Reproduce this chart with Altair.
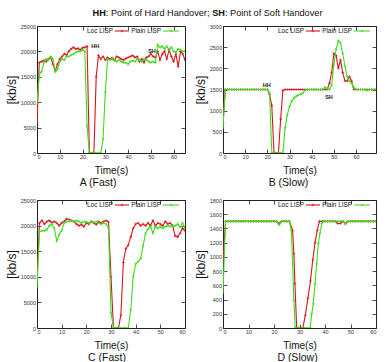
import altair as alt
import pandas as pd

FONT = "Liberation Sans"
SERIES = ["Loc LISP", "Plain LISP"]
COLORS = ["#d8161b", "#3fdc1e"]

# ---------------- Panel A (Fast) ----------------
A_t = list(range(0, 66))
A_red = [6000, 17800, 18000, 18200, 18000, 18500, 18800, 17500, 16200, 17500,
         18500, 19000, 19500, 19300, 20000, 20500, 20800, 20500, 20600, 20300,
         20700, 20800, 21000, 0, 0, 0, 15000, 19200, 18500, 19000,
         18300, 18800, 18500, 18700, 18300, 19000, 18800, 18500, 18300, 18600,
         18800, 19000, 19200, 18800, 19000, 18000, 18500, 17800, 18800, 19000,
         19500, 19000, 18800, 20000, 18300, 19500, 20000, 18500, 20300, 19000,
         18000, 19500, 17000, 20000, 19500, 18300]
A_green = [9800, 15500, 16000, 17800, 18500, 18300, 19000, 18500, 16000, 16500,
           18000, 18500, 18300, 19000, 19000, 19300, 19500, 19800, 20000, 20000,
           20300, 20000, 5300, 0, 0, 0, 0, 0, 0, 2700,
           12000, 18500, 18300, 18500, 18200, 18000, 18300, 18000, 17800, 17800,
           17500, 18000, 18200, 18000, 18500, 18300, 18000, 18500, 18300, 18000,
           17800, 18000, 17800, 21300, 20800, 21000, 20500, 21000, 20300, 20800,
           20000, 19800, 20500, 20300, 20000, 20000]
A_ann_t = [25.6, 50.5]
A_ann_v = [21100, 20100]
A_ann_label = ["HH", "SH"]

# ---------------- Panel B (Slow) ----------------
B_t = list(range(0, 70))
B_red = [700, 1500, 1500, 1500, 1500, 1500, 1500, 1500, 1500, 1500,
         1500, 1500, 1500, 1500, 1500, 1500, 1500, 1500, 1500, 1500,
         1500, 1380, 1120, 0, 0, 0, 800, 1480, 1500, 1500,
         1500, 1500, 1500, 1500, 1500, 1500, 1500, 1500, 1500, 1500,
         1500, 1500, 1500, 1500, 1500, 1500, 1500, 1500, 1650, 1900,
         2350, 2300, 2000, 2200, 1900, 1700, 1700, 1800, 1700, 1500,
         1500, 1500, 1500, 1500, 1500, 1500, 1500, 1500, 1500, 1500]
B_green = [600, 1500, 1500, 1500, 1500, 1500, 1500, 1500, 1500, 1500,
           1500, 1500, 1500, 1500, 1500, 1500, 1500, 1500, 1500, 1500,
           1500, 1420, 0, 0, 0, 0, 0, 0, 600, 900,
           1100, 1220, 1300, 1340, 1370, 1390, 1420, 1480, 1500, 1500,
           1500, 1500, 1500, 1500, 1500, 1500, 1550, 1520, 1500, 1600,
           2100, 2450, 2650, 2600, 2350, 2050, 1800, 1700, 1650, 1550,
           1500, 1500, 1500, 1500, 1500, 1480, 1500, 1500, 1500, 1500]
B_ann_t = [19.7, 47.8]
B_ann_v = [1605, 1330]
B_ann_label = ["HH", "SH"]

# ---------------- Panel C (Fast) ----------------
C_t = list(range(0, 61))
C_red = [9000, 20500, 21000, 20300, 20800, 21000, 20600, 20800, 20500, 20000,
         20500, 20800, 21300, 21200, 21000, 20800, 20300, 20000, 20200, 19800,
         20500, 20300, 20800, 20500, 20200, 20800, 20500, 20800, 21000, 20700,
         10000, 0, 0, 0, 2500, 12800, 15500, 16200, 17800, 19500,
         20300, 20500, 20000, 20300, 20000, 20500, 20000, 21000, 20000, 20500,
         20300, 20000, 20800, 20300, 20500, 20000, 18000, 17800, 18500, 19500,
         19000]
C_green = [8000, 18800, 19000, 19000, 19200, 20000, 20300, 19500, 17000, 18300,
           19000, 20500, 20800, 20800, 21000, 20800, 21000, 20800, 20500, 20800,
           20700, 20500, 20800, 20600, 20800, 20500, 20300, 20500, 20300, 19500,
           3000, 0, 0, 0, 0, 0, 0, 0, 3500, 10000,
           12500, 13000, 13600, 16000, 18500, 19300, 19800, 18500, 19800, 19500,
           19800, 19500, 19800, 20000, 19800, 20000, 20000, 20300, 19700, 20500,
           19500]

# ---------------- Panel D (Slow) ----------------
D_red_t = [0, 1, 2, 3, 4, 5, 6, 7, 8, 9, 10, 11, 12, 13, 14, 15, 16, 17, 18, 19,
           20, 21, 22, 23, 24, 25, 26,
           27.3, 27.8, 28.2, 28.9, 29.7, 30.5, 31.3, 32.3, 33.3, 34.3, 35.2, 36.1, 37.0, 37.8,
           39, 40, 41, 42, 43, 44, 45, 46, 47, 48, 49, 50, 51, 52, 53, 54, 55, 56, 57, 58, 59, 60]
D_red = [950, 1500, 1500, 1500, 1500, 1500, 1500, 1500, 1500, 1500,
         1500, 1500, 1500, 1500, 1500, 1500, 1500, 1500, 1500, 1500,
         1500, 1500, 1470, 1500, 1500, 1500, 1500,
         1375, 1045, 625, 0, 0, 0, 0, 180, 420, 660, 960, 1200, 1375, 1500,
         1500, 1500, 1500, 1500, 1500, 1500, 1470, 1470, 1500, 1470, 1500,
         1500, 1500, 1500, 1500, 1500, 1500, 1500, 1500, 1500, 1500, 1500]
D_green_t = [0, 1, 2, 3, 4, 5, 6, 7, 8, 9, 10, 11, 12, 13, 14, 15, 16, 17, 18, 19,
             20, 21, 22, 23, 24, 25, 26,
             26.8, 27.3, 27.8, 28.3, 29, 30, 31, 32, 33, 34.2, 34.8, 35.4, 36.1, 36.7, 37.4, 38.0, 38.7, 39.3,
             40, 41, 42, 43, 44, 45, 46, 47, 48, 49, 50, 51, 52, 53, 54, 55, 56, 57, 58, 59, 60]
D_green = [500, 1500, 1500, 1500, 1500, 1500, 1500, 1500, 1500, 1500,
           1500, 1500, 1500, 1500, 1500, 1500, 1500, 1500, 1500, 1500,
           1500, 1500, 1450, 1500, 1500, 1500, 1500,
           1370, 900, 390, 0, 0, 0, 0, 0, 0, 0, 200, 340, 620, 900, 1190, 1330, 1470, 1500,
           1500, 1500, 1500, 1500, 1500, 1500, 1500, 1500, 1460, 1500, 1500,
           1500, 1500, 1500, 1500, 1500, 1500, 1500, 1500, 1500, 1500]

X_TICKS = [0, 10, 20, 30, 40, 50, 60]
Y_TICKS_FAST = [0, 5000, 10000, 15000, 20000, 25000]
Y_TICKS_B = [0, 500, 1000, 1500, 2000, 2500, 3000]
Y_TICKS_D = [0, 200, 400, 600, 800, 1000, 1200, 1400, 1600, 1800]

TITLE_PARTS = [("HH", "bold"), (": Point of Hard Handover; ", "normal"),
               ("SH", "bold"), (": Point of Soft Handover", "normal")]


def long_df(t_red, v_red, t_green, v_green):
    return pd.DataFrame({
        "t": list(t_red) + list(t_green),
        "v": list(v_red) + list(v_green),
        "series": [SERIES[0]] * len(t_red) + [SERIES[1]] * len(t_green),
    })


def panel(df, xdom, ydom, yvals, w, h, title, dx, ann=None, top_title=False):
    xs = alt.Scale(domain=xdom, nice=False, zero=False)
    ys = alt.Scale(domain=ydom, nice=False)
    color = alt.Color("series:N", scale=alt.Scale(domain=SERIES, range=COLORS), legend=None)
    ax_b = alt.Axis(orient="bottom", values=X_TICKS, format="d", title="Time(s)")
    ax_l = alt.Axis(orient="left", values=yvals, format="d", title="[kb/s]")
    ax_t = alt.Axis(orient="top", values=X_TICKS, labels=False, title=None)
    ax_r = alt.Axis(orient="right", values=yvals, labels=False, title=None)

    layers = []
    for i, s in enumerate(SERIES):
        sub = alt.Chart(df).transform_filter(alt.datum.series == s)
        line = sub.mark_line(strokeWidth=1.1, clip=True).encode(
            x=alt.X("t:Q", scale=xs, axis=ax_b if i == 0 else None),
            y=alt.Y("v:Q", scale=ys, axis=ax_l if i == 0 else None),
            color=color,
        )
        pts = sub.mark_point(shape="cross", size=7, filled=True, clip=True).encode(
            x=alt.X("t:Q", scale=xs, axis=ax_t if i == 0 else None),
            y=alt.Y("v:Q", scale=ys, axis=ax_r if i == 0 else None),
            color=color,
        )
        layers += [line, pts]

    if ann is not None:
        adf = pd.DataFrame({"t": ann[0], "v": ann[1], "label": ann[2]})
        layers.append(alt.Chart(adf).mark_text(fontWeight="bold", fontSize=5.5, font=FONT,
                                               color="#111").encode(
            x=alt.X("t:Q", scale=xs, axis=None),
            y=alt.Y("v:Q", scale=ys, axis=None),
            text="label:N"))

    # key inside plot, gnuplot style: label then line sample
    leg_text_x = [w - 72, w - 24]
    leg_line_x = [(w - 70, w - 56), (w - 22, w - 6)]
    for i, s in enumerate(SERIES):
        ldf = pd.DataFrame({"label": [s]})
        layers.append(alt.Chart(ldf).mark_text(align="right", baseline="middle", fontSize=6.4,
                                               font=FONT, color="#111").encode(
            text="label:N", x=alt.value(leg_text_x[i]), y=alt.value(5)))
        layers.append(alt.Chart(ldf).mark_rule(color=COLORS[i], strokeWidth=1.1).encode(
            x=alt.value(leg_line_x[i][0]), x2=alt.value(leg_line_x[i][1]), y=alt.value(5)))
        layers.append(alt.Chart(ldf).mark_point(shape="cross", size=7, filled=True,
                                                color=COLORS[i]).encode(
            x=alt.value((leg_line_x[i][0] + leg_line_x[i][1]) / 2), y=alt.value(5)))

    if top_title:
        widths = [1.444, 11.561, 1.389, 10.617]
        fs = 9.2
        x0 = 55.5
        for (txt, wt), wd in zip(TITLE_PARTS, widths):
            tdf = pd.DataFrame({"label": [txt]})
            layers.append(alt.Chart(tdf).mark_text(align="left", baseline="middle", fontSize=fs,
                                                   font=FONT, fontWeight=wt, color="#111").encode(
                text="label:N", x=alt.value(x0), y=alt.value(-13)))
            x0 += wd * fs

    return alt.layer(*layers).resolve_axis(x="independent", y="independent").properties(
        width=w, height=h,
        title=alt.TitleParams(title, orient="bottom", fontSize=10.5, font=FONT,
                              fontWeight="normal", dx=dx, offset=3, color="#111"),
    )


pA = panel(long_df(A_t, A_red, A_t, A_green), [0, 65], [0, 25000], Y_TICKS_FAST, 148, 127,
           "A (Fast)", -13, (A_ann_t, A_ann_v, A_ann_label), top_title=True)
pB = panel(long_df(B_t, B_red, B_t, B_green), [0, 69], [0, 3000], Y_TICKS_B, 153, 127,
           "B (Slow)", -11, (B_ann_t, B_ann_v, B_ann_label))
pC = panel(long_df(C_t, C_red, C_t, C_green), [0, 60], [0, 25000], Y_TICKS_FAST, 148, 128,
           "C (Fast)", -4)
pD = panel(long_df(D_red_t, D_red, D_green_t, D_green), [0, 60], [0, 1800], Y_TICKS_D, 153, 128,
           "D (Slow)", -2)

chart = alt.concat(pA, pB, pC, pD, columns=2, bounds="flush",
                   spacing=alt.RowColnumber(column=38, row=47)).properties(
    padding={"left": 4, "top": 8, "right": 0, "bottom": 0},
    background="white",
).configure_view(stroke="#222", strokeWidth=1).configure_axis(
    grid=False, domain=False, offset=-4, tickSize=4, tickColor="#222", tickWidth=0.8,
    labelFont=FONT, labelFontSize=5.5, labelColor="#333", labelPadding=1.5,
    titleFont=FONT, titleFontWeight="normal", titleColor="#111",
).configure_axisX(titleFontSize=10, titlePadding=5).configure_axisY(
    titleFontSize=12, titlePadding=2)

chart.save("out.html", embed_options={"renderer": "svg", "actions": False})
